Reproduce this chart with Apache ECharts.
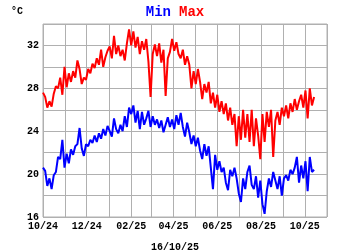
<!DOCTYPE html>
<html>
<head>
<meta charset="utf-8">
<script src="https://cdn.jsdelivr.net/npm/echarts@6/dist/echarts.min.js"></script>
<style>html,body{margin:0;padding:0;background:#fff;}#c{width:350px;height:250px;}</style>
</head>
<body>
<div id="c"></div>
<script>
const startDate = [2024, 9, 1];
const stepDays = 3;
const axisMin = [2024, 9, 1];
const axisMax = [2025, 10, 1];
const footerText = '16/10/25';
const unitText = '°C';
const seriesNames = ['Min', 'Max'];
const yTicks = [16, 20, 24, 28, 32];

const maxTemps = [
27.6,27.2,26.2,26.8,26.3,27.5,28.2,28.0,29.0,27.4,
30.0,28.1,29.4,28.6,29.6,29.0,30.6,29.8,28.4,29.0,
28.8,29.8,29.4,30.3,29.9,30.8,30.2,31.6,30.0,30.9,
31.5,31.9,30.8,32.9,31.2,32.0,31.0,31.6,30.6,32.2,
33.5,32.0,33.3,31.8,32.8,31.2,32.4,31.6,32.6,30.5,
27.2,31.2,32.1,31.0,32.2,30.4,31.6,27.3,30.8,31.4,
32.6,31.5,32.3,31.2,30.8,31.6,30.2,31.0,30.2,28.0,
29.6,28.4,29.8,28.6,27.0,28.4,27.6,28.6,26.6,27.6,
26.2,27.4,25.8,26.8,25.6,26.6,25.0,26.2,24.6,25.6,
22.6,25.4,23.2,26.0,23.4,25.6,23.0,26.0,22.6,25.2,
23.6,21.4,25.6,23.0,25.8,24.4,26.0,21.6,25.0,25.8,
24.6,26.2,25.4,26.4,25.2,26.6,25.8,27.0,26.0,26.8,
27.4,26.2,27.8,25.2,28.0,26.4,27.2
];
const minTemps = [
20.6,20.3,18.9,19.6,18.6,19.9,20.2,21.6,21.4,23.2,
20.6,21.9,21.0,22.3,21.8,22.6,22.8,24.3,22.4,21.7,
22.8,22.6,23.2,22.9,23.6,23.0,23.8,23.3,24.2,23.6,
24.5,24.0,23.5,25.2,24.2,23.8,24.6,24.0,25.4,24.4,
26.2,25.6,26.4,24.8,25.9,24.2,25.8,24.6,25.2,25.9,
24.4,25.4,24.6,25.1,24.3,25.0,23.9,24.6,25.3,24.4,
25.1,24.2,25.5,24.6,25.7,24.4,23.5,24.8,23.9,22.8,
23.6,22.6,23.4,22.2,21.4,22.8,21.7,22.6,20.6,18.6,
21.8,20.4,21.2,20.2,20.6,19.2,18.5,20.4,19.8,20.6,
19.6,18.2,17.4,19.6,18.6,20.2,20.8,19.0,18.6,19.8,
17.8,19.4,17.2,16.3,18.4,19.6,18.8,20.2,19.4,18.6,
19.8,18.0,19.6,19.9,19.4,20.4,20.0,20.6,21.6,19.2,
20.8,19.6,21.2,18.4,21.6,20.2,20.4
];

function dateAt(i) {
  return new Date(startDate[0], startDate[1], startDate[2] + i * stepDays).getTime();
}
const minData = minTemps.map((v, i) => [dateAt(i), v]);
const maxData = maxTemps.map((v, i) => [dateAt(i), v]);

const FONT = '"Liberation Mono", "DejaVu Sans Mono", monospace';
const chart = echarts.init(document.getElementById('c'), null, {renderer: 'canvas'});
const DAY = 86400000;
chart.setOption({
  animation: false,
  backgroundColor: '#fff',
  title: [
    {
      text: '{a|' + seriesNames[0] + '}{b|' + seriesNames[1] + '}',
      left: 'center', top: 0,
      textStyle: {
        rich: {
          a: {color: '#0000ff', fontFamily: FONT, fontWeight: 'bold', fontSize: 14, padding: [0, 8, 0, 0]},
          b: {color: '#ff0000', fontFamily: FONT, fontWeight: 'bold', fontSize: 14}
        }
      }
    },
    {
      text: unitText, left: 6, top: 1,
      textStyle: {color: '#000', fontFamily: FONT, fontWeight: 'bold', fontSize: 10}
    },
    {
      text: footerText, left: 'center', top: 237,
      textStyle: {color: '#000', fontFamily: FONT, fontWeight: 'bold', fontSize: 10}
    }
  ],
  grid: {left: 43, right: 23, top: 24, bottom: 33, show: true, borderColor: '#b0b0b0', borderWidth: 1},
  xAxis: {
    type: 'time',
    min: new Date(axisMin[0], axisMin[1], axisMin[2]).getTime(),
    max: new Date(axisMax[0], axisMax[1], axisMax[2]).getTime(),
    minInterval: 28 * DAY,
    maxInterval: 31 * DAY,
    axisLine: {show: false},
    axisTick: {show: false},
    splitLine: {show: true, lineStyle: {color: '#b0b0b0', width: 1}},
    axisLabel: {
      color: '#000', fontFamily: FONT, fontWeight: 'bold', fontSize: 10, margin: 4,
      hideOverlap: false,
      formatter: function (v) {
        const d = new Date(v);
        if (d.getDate() !== 1 || d.getMonth() % 2 === 0) return '';
        const mm = String(d.getMonth() + 1).padStart(2, '0');
        const yy = String(d.getFullYear() % 100).padStart(2, '0');
        return mm + '/' + yy;
      }
    }
  },
  yAxis: {
    type: 'value', min: 16, max: 34, interval: 2,
    axisLine: {show: false},
    axisTick: {show: false},
    splitLine: {show: true, lineStyle: {color: '#b0b0b0', width: 1}},
    axisLabel: {
      color: '#000', fontFamily: FONT, fontWeight: 'bold', fontSize: 10, margin: 4,
      formatter: function (v) { return yTicks.indexOf(v) >= 0 ? String(v) : ''; }
    }
  },
  series: [
    {name: seriesNames[1], type: 'line', data: maxData, showSymbol: false, lineStyle: {color: '#ff0000', width: 2}, itemStyle: {color: '#ff0000'}},
    {name: seriesNames[0], type: 'line', data: minData, showSymbol: false, lineStyle: {color: '#0000ff', width: 2}, itemStyle: {color: '#0000ff'}}
  ]
});
</script>
</body>
</html>
